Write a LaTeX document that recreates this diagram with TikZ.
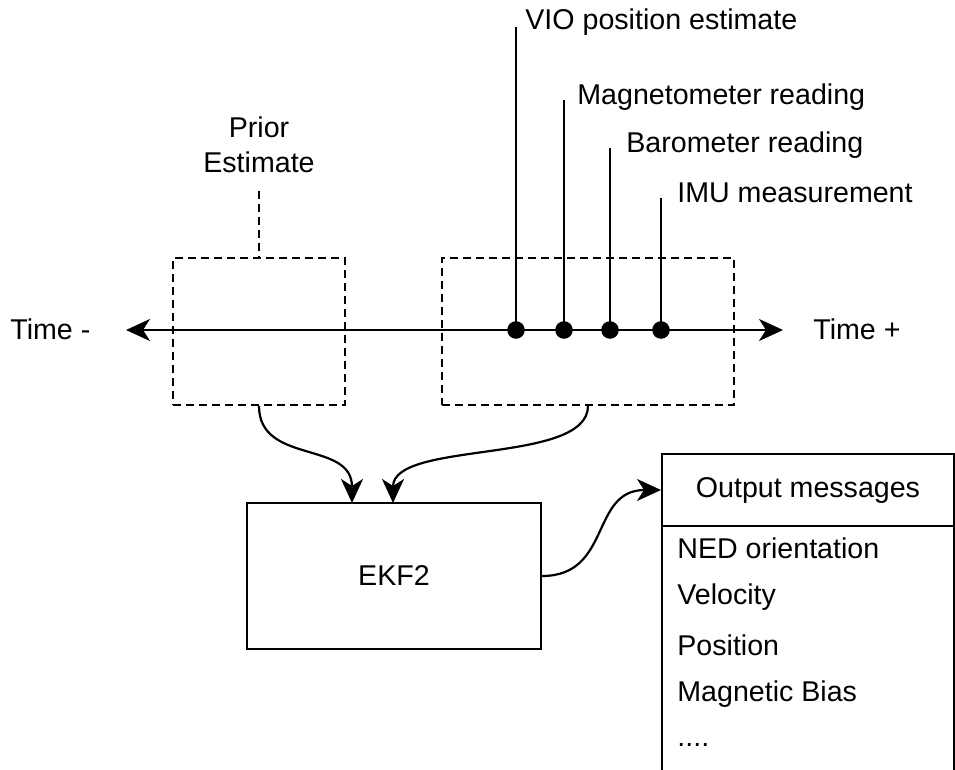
\documentclass[tikz,border=0pt]{standalone}
\usepackage{fontspec}
\setmainfont{Liberation Sans}
\usetikzlibrary{arrows.meta}

\begin{document}
\begin{tikzpicture}[x=0.5pt,y=-0.5pt,
  txt/.style={font=\fontsize{14.3}{17.5}\selectfont, inner sep=0pt},
  solidbox/.style={draw, line width=1pt, inner sep=0pt},
  dashbox/.style={draw, line width=0.9pt, dash pattern=on 4pt off 2.5pt, inner sep=0pt},
  wire/.style={line width=1.1pt},
  head/.tip={Stealth[length=12pt,width=11pt,inset=3.5pt]},
  tip/.style={-head},
  event/.style={circle, fill=black, inner sep=0pt, minimum size=8.8pt}]

  \clip (0,0) rectangle (955,770);
  \fill[white] (0,0) rectangle (955,770);

  % time axis
  \node[txt, anchor=west] (tminus) at (10,329) {Time -};
  \node[txt, anchor=west] (tplus) at (813,329) {Time +};
  \coordinate (axl) at (126,330);
  \coordinate (axr) at (783,330);
  \draw[wire, head-head] (axl) -- (axr);

  % windows on the time axis
  \node[dashbox, minimum width=86pt, minimum height=73.5pt] (prior) at (259,331.5) {};
  \node[dashbox, minimum width=146pt, minimum height=73.5pt] (recent) at (588,331.5) {};

  % prior estimate label
  \node[txt, align=center] (priorlbl) at (259,145) {Prior\\Estimate};
  \coordinate (priortop) at (259,191);
  \draw[line width=0.9pt, dash pattern=on 4pt off 2.5pt] (priortop) -- (prior.north);

  % measurement events
  \node[event] (e1) at (516,330) {};
  \node[event] (e2) at (564,330) {};
  \node[event] (e3) at (610,330) {};
  \node[event] (e4) at (661,330) {};
  \coordinate (t1) at (516,27);
  \coordinate (t2) at (564,100);
  \coordinate (t3) at (610,148);
  \coordinate (t4) at (661,198);
  \draw[wire] (e1.center) -- (t1);
  \draw[wire] (e2.center) -- (t2);
  \draw[wire] (e3.center) -- (t3);
  \draw[wire] (e4.center) -- (t4);
  \node[txt, anchor=west] (l1) at (525,22) {VIO position estimate};
  \node[txt, anchor=west] (l2) at (577,97) {Magnetometer reading};
  \node[txt, anchor=west] (l3) at (626,145) {Barometer reading};
  \node[txt, anchor=west] (l4) at (677,193) {IMU measurement};

  % filter
  \node[solidbox, txt, minimum width=147pt, minimum height=73pt] (ekf) at (394,576) {EKF2};
  \coordinate (inA) at (352,503);
  \coordinate (inB) at (393,503);
  \draw[wire, tip] (prior.south) .. controls (259,465) and (352,440) .. (inA);
  \draw[wire, tip] (recent.south) .. controls (588,465) and (393,440) .. (inB);

  % output messages
  \node[solidbox, txt, minimum width=146pt, minimum height=36pt] (hdr) at (808,490) {Output messages};
  \node[solidbox, minimum width=146pt, minimum height=123pt] (body) at (808,649) {};
  \node[txt, anchor=west] (m1) at (677,548) {NED orientation};
  \node[txt, anchor=west] (m2) at (677,597) {Velocity};
  \node[txt, anchor=west] (m3) at (677,645) {Position};
  \node[txt, anchor=west] (m4) at (677,694) {Magnetic Bias};
  \node[txt, anchor=west] (m5) at (677,745) {....};
  \draw[wire, tip] (ekf.east) .. controls (612,576) and (590,490) .. (hdr.west);
\end{tikzpicture}
\end{document}
